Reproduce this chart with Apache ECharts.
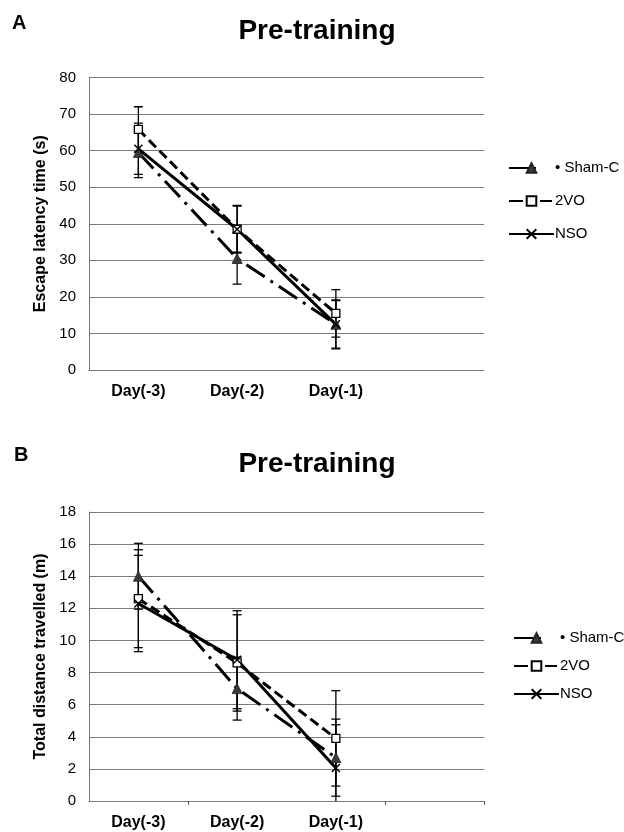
<!DOCTYPE html>
<html>
<head>
<meta charset="utf-8">
<script src="https://cdn.jsdelivr.net/npm/echarts@6/dist/echarts.min.js"></script>
<style>html,body{margin:0;padding:0;background:#fff}#c{width:624px;height:832px}</style>
</head>
<body>
<div id="c"></div>
<script>
// ---- data ----
var days = ['Day(-3)', 'Day(-2)', 'Day(-1)', ''];
var seriesNames = ['Sham-C', '2VO', 'NSO'];
// Panel A: escape latency time (s)
var shamA = [59.5, 30.5, 12.5];
var vo2A = [65.8, 38.5, 15.5];
var nsoA = [60.5, 38.5, 12.5];
var shamAErr = [6.9, 7.0, 6.7];
var vo2AErr = [6.2, 6.5, 6.5];
var nsoAErr = [7.0, 6.3, 6.5];
// Panel B: total distance travelled (m)
var shamB = [14.0, 7.0, 2.7];
var vo2B = [12.6, 8.6, 3.9];
var nsoB = [12.3, 8.8, 2.05];
var shamBErr = [2.05, 1.96, 2.4];
var vo2BErr = [3.05, 3.0, 2.97];
var nsoBErr = [3.0, 3.05, 2.7];
var yTitleA = 'Escape latency time (s)';
var yTitleB = 'Total distance travelled (m)';
var panelTitle = 'Pre-training';

var FONT = 'Liberation Sans, Arial, sans-serif';
var xMark = 'path://M0,0L10,10M10,0L0,10';

function errData(mean, err) {
  return mean.map(function (m, i) { return [i, m - err[i], m + err[i]]; });
}
function errSeries(mean, err, gi) {
  return {
    type: 'custom', xAxisIndex: gi, yAxisIndex: gi, clip: true, z: 1,
    silent: true, legendHoverLink: false,
    encode: { x: 0, y: [1, 2] },
    data: errData(mean, err),
    renderItem: function (params, api) {
      var x = api.value(0);
      var lo = api.coord([x, api.value(1)]);
      var hi = api.coord([x, api.value(2)]);
      var w = 4.5;
      var st = { stroke: '#000', lineWidth: 1.3 };
      return {
        type: 'group',
        children: [
          { type: 'line', shape: { x1: lo[0], y1: lo[1], x2: hi[0], y2: hi[1] }, style: st },
          { type: 'line', shape: { x1: lo[0] - w, y1: lo[1], x2: lo[0] + w, y2: lo[1] }, style: st },
          { type: 'line', shape: { x1: hi[0] - w, y1: hi[1], x2: hi[0] + w, y2: hi[1] }, style: st }
        ]
      };
    }
  };
}
var styles = {
  'Sham-C': { symbol: 'triangle', symbolSize: 10, itemStyle: { color: '#3a3a3a', borderColor: '#222', borderWidth: 0.8 },
              lineStyle: { color: '#000', width: 3, type: [22, 7, 3, 7] } },
  '2VO': { symbol: 'rect', symbolSize: 8, itemStyle: { color: '#fff', borderColor: '#000', borderWidth: 1.3 },
           lineStyle: { color: '#000', width: 3, type: [10, 5] } },
  'NSO': { symbol: xMark, symbolSize: 8, itemStyle: { color: '#000', borderColor: '#000', borderWidth: 1.5 },
           lineStyle: { color: '#000', width: 3, type: 'solid' } }
};
function lineSeries(name, data, gi) {
  var s = styles[name];
  return {
    type: 'line', name: name, xAxisIndex: gi, yAxisIndex: gi, data: data, z: 3,
    symbol: s.symbol, symbolSize: s.symbolSize, showAllSymbol: true,
    itemStyle: s.itemStyle, lineStyle: s.lineStyle, animation: false
  };
}
function yAxis(gi, max, interval, title) {
  return {
    type: 'value', gridIndex: gi, min: 0, max: max, interval: interval,
    name: title, nameLocation: 'middle', nameGap: 35, nameRotate: 90,
    nameTextStyle: { fontFamily: FONT, fontWeight: 'bold', fontSize: 16, color: '#000' },
    axisLine: { show: true, lineStyle: { color: '#7a7a7a', width: 1 } },
    axisTick: { show: false },
    axisLabel: { fontFamily: FONT, fontSize: 15, color: '#000', margin: 13 },
    splitLine: { show: true, lineStyle: { color: '#7a7a7a', width: 1 } }
  };
}
function xAxis(gi, ticks) {
  return {
    type: 'category', gridIndex: gi, data: days, boundaryGap: true,
    axisLine: { show: true, lineStyle: { color: '#7a7a7a', width: 1 } },
    axisTick: ticks ? { show: true, length: 4, interval: function (i) { return i === 1 || i === 3; }, lineStyle: { color: '#555' } } : { show: false },
    axisLabel: { fontFamily: FONT, fontWeight: 'bold', fontSize: 16, color: '#000', margin: 14, interval: 0 }
  };
}
var legendItems = [
  { name: 'Sham-C', lineStyle: { type: [27, 100] } },
  { name: '2VO', lineStyle: { type: [14, 17, 12, 100] } },
  { name: 'NSO' }
];
var legendBase = {
  orient: 'vertical', itemWidth: 45, itemHeight: 12, data: legendItems,
  selectedMode: false,
  textStyle: { fontFamily: FONT, fontSize: 15, color: '#000', lineHeight: 16, padding: [0, 0, 0, -4] },
  formatter: function (n) { return n === 'Sham-C' ? '\u2022 ' + n : n; }
};
var option = {
  backgroundColor: '#fff',
  animation: false,
  grid: [
    { left: 89, top: 77.5, width: 395, height: 292.5 },
    { left: 89, top: 512, width: 395, height: 289 }
  ],
  xAxis: [xAxis(0, false), xAxis(1, true)],
  yAxis: [yAxis(0, 80, 10, yTitleA), yAxis(1, 18, 2, yTitleB)],
  legend: [
    Object.assign({}, legendBase, { left: 503, top: 155, itemGap: 17 }),
    Object.assign({}, legendBase, { left: 508, top: 625, itemGap: 12 })
  ],
  graphic: [
    { type: 'text', x: 317, y: 31, style: { text: panelTitle, font: 'bold 28px ' + FONT, fill: '#000', align: 'center', verticalAlign: 'middle', textAlign: 'center', textVerticalAlign: 'middle' } },
    { type: 'text', x: 317, y: 464, style: { text: panelTitle, font: 'bold 28px ' + FONT, fill: '#000', align: 'center', verticalAlign: 'middle', textAlign: 'center', textVerticalAlign: 'middle' } },
    { type: 'text', x: 12, y: 23, style: { text: 'A', font: 'bold 20px ' + FONT, fill: '#000', verticalAlign: 'middle', textVerticalAlign: 'middle' } },
    { type: 'text', x: 14, y: 455, style: { text: 'B', font: 'bold 20px ' + FONT, fill: '#000', verticalAlign: 'middle', textVerticalAlign: 'middle' } }
  ],
  series: [
    errSeries(shamA, shamAErr, 0), errSeries(vo2A, vo2AErr, 0), errSeries(nsoA, nsoAErr, 0),
    lineSeries('Sham-C', shamA, 0), lineSeries('2VO', vo2A, 0), lineSeries('NSO', nsoA, 0),
    errSeries(shamB, shamBErr, 1), errSeries(vo2B, vo2BErr, 1), errSeries(nsoB, nsoBErr, 1),
    lineSeries('Sham-C', shamB, 1), lineSeries('2VO', vo2B, 1), lineSeries('NSO', nsoB, 1)
  ]
};
var chart = echarts.init(document.getElementById('c'), null, { renderer: 'canvas' });
chart.setOption(option);
</script>
</body>
</html>
